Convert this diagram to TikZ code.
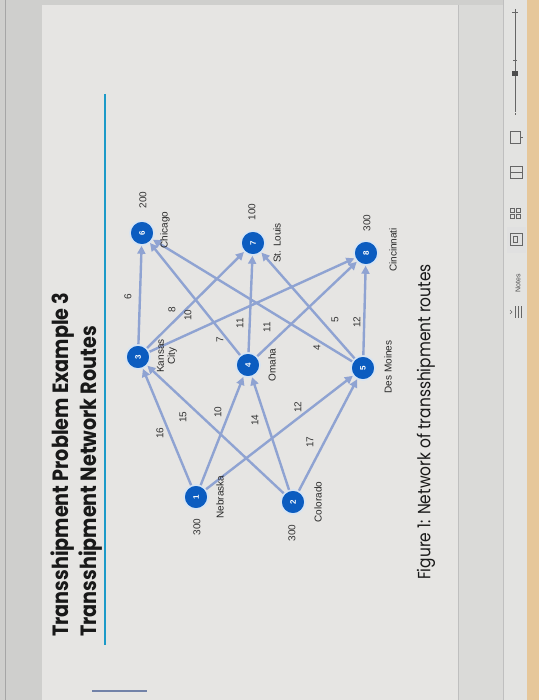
\documentclass[tikz,border=0pt]{standalone}
\usepackage{fontspec}
\setmainfont{Liberation Sans}
\newfontfamily\titlefont{Poppins}
\usetikzlibrary{arrows.meta}
\definecolor{nodeblue}{HTML}{0B5CC0}
\definecolor{ringblue}{HTML}{D6E4F4}
\definecolor{edgeblue}{HTML}{8FA3D2}
\definecolor{slidebg}{HTML}{E6E5E3}
\definecolor{framebg}{HTML}{CFCFCD}
\definecolor{bandbg}{HTML}{DADAD8}
\definecolor{barbg}{HTML}{E3E3E1}
\definecolor{titleteal}{HTML}{1C9AC8}
\definecolor{warmbg}{HTML}{E6C79A}
\begin{document}
\begin{tikzpicture}[x=1pt,y=-1pt,
  city/.style={circle,fill=nodeblue,draw=ringblue,line width=1.6pt,minimum size=24pt,inner sep=0pt,
    text=white,font=\bfseries\fontsize{8}{8}\selectfont,rotate=90},
  route/.style={draw=edgeblue,line width=2.4pt,-{Triangle[length=8pt,width=8pt]}},
  wt/.style={font=\fontsize{10}{10}\selectfont,rotate=90,text=black!80,inner sep=0pt},
  place/.style={font=\fontsize{10}{11}\selectfont,rotate=90,text=black!85,inner sep=0pt,align=center},
  ttl/.style={font=\titlefont\bfseries\fontsize{19.2}{21}\selectfont,rotate=90,anchor=west,inner sep=0pt,text=black!90},
  icon/.style={draw=black!60,line width=0.6pt},
]
\useasboundingbox (0,0) rectangle (539,700);
% backgrounds
\fill[framebg] (0,0) rectangle (539,700);
\fill[slidebg] (42,5) rectangle (458,700);
\draw[black!35,line width=1pt] (5,0) -- (5,700);
\fill[bandbg] (458,5) rectangle (503,700);
\draw[black!25,line width=0.6pt] (458,5) -- (458,700);
\fill[barbg] (503,0) rectangle (527,700);
\draw[black!25,line width=0.6pt] (503,0) -- (503,700);
\fill[warmbg] (527,0) rectangle (539,700);
% titles
\node[ttl] (t1) at (63,637) {\scalebox{1}[1.15]{Transshipment Problem Example 3}};
\node[ttl] (t2) at (91,637) {\scalebox{1}[1.15]{Transshipment Network Routes}};
\draw[titleteal,line width=2.6pt] (105,94) -- (105,645);
\draw[edgeblue!80!black,line width=1.3pt] (92,691) -- (147,691);
% nodes
\node[city] (n1) at (196,497) {1};
\node[city] (n2) at (293,502) {2};
\node[city] (n3) at (138,357) {3};
\node[city] (n4) at (248,365) {4};
\node[city] (n5) at (363,368) {5};
\node[city] (n6) at (142,233) {6};
\node[city] (n7) at (253,243) {7};
\node[city] (n8) at (366,253) {8};
% routes
\draw[route] (n1) -- (n3);
\draw[route] (n1) -- (n4);
\draw[route] (n1) -- (n5);
\draw[route] (n2) -- (n3);
\draw[route] (n2) -- (n4);
\draw[route] (n2) -- (n5);
\draw[route] (n3) -- (n6);
\draw[route] (n3) -- (n7);
\draw[route] (n3) -- (n8);
\draw[route] (n4) -- (n6);
\draw[route] (n4) -- (n7);
\draw[route] (n4) -- (n8);
\draw[route] (n5) -- (n6);
\draw[route] (n5) -- (n7);
\draw[route] (n5) -- (n8);
% weights
\node[wt] (w13) at (160,433) {16};
\node[wt] (w14) at (218,412) {10};
\node[wt] (w15) at (298,407) {12};
\node[wt] (w23) at (183,417) {15};
\node[wt] (w24) at (255,420) {14};
\node[wt] (w25) at (310,442) {17};
\node[wt] (w36) at (128,297) {6};
\node[wt] (w37) at (172,310) {8};
\node[wt] (w38) at (188,315) {10};
\node[wt] (w46) at (220,340) {7};
\node[wt] (w47) at (240,323) {11};
\node[wt] (w48) at (267,327) {11};
\node[wt] (w56) at (317,348) {4};
\node[wt] (w57) at (335,320) {5};
\node[wt] (w58) at (357,322) {12};
% supplies / demands
\node[wt] (s1) at (197,527) {300};
\node[wt] (s2) at (292,533) {300};
\node[wt] (d6) at (143,200) {200};
\node[wt] (d7) at (252,212) {100};
\node[wt] (d8) at (367,223) {300};
% places
\node[place] (p1) at (220,497) {Nebraska};
\node[place] (p2) at (318,502) {Colorado};
\node[place] (p3) at (167,356) {Kansas\\City};
\node[place] (p4) at (272,365) {Omaha};
\node[place] (p5) at (388,367) {Des Moines};
\node[place] (p6) at (165,230) {Chicago};
\node[place] (p7) at (277,243) {St. Louis};
\node[place] (p8) at (393,250) {Cincinnati};
% caption
\node[font=\titlefont\fontsize{15.4}{18}\selectfont,rotate=90,anchor=west,inner sep=0pt,text=black!90] (cap) at (426,580) {\scalebox{1}[1.15]{Figure 1: Network of transshipment routes}};
% status bar
\node[font=\fontsize{7}{7}\selectfont,rotate=90,text=black!70,inner sep=0pt] (notes) at (518,283) {Notes};
\draw[icon] (515,306) -- (515,318) (518,306) -- (518,318) (521,306) -- (521,318);
\draw[icon] (510,310) -- (512,312) -- (510,314);
\fill[black!12] (507,227) rectangle (526,253);
\draw[icon] (510,233) rectangle (522,245);
\draw[icon] (513,236) rectangle (517,242);
\draw[icon] (510,208) rectangle (514,212) (510,214) rectangle (514,218) (516,208) rectangle (520,212) (516,214) rectangle (520,218);
\draw[icon] (510,166) rectangle (522,178) (510,172) -- (522,172);
\draw[icon] (510,131) rectangle (520,143) (520,137) -- (523,137);
\draw[icon] (515,112) -- (515,10);
\draw[icon] (515,115) -- (515,113);
\draw[icon] (512,12) -- (518,12) (515,9) -- (515,15);
\fill[black!70] (512,71) rectangle (518,76);
\draw[icon] (513,60) -- (517,60);
\end{tikzpicture}
\end{document}
